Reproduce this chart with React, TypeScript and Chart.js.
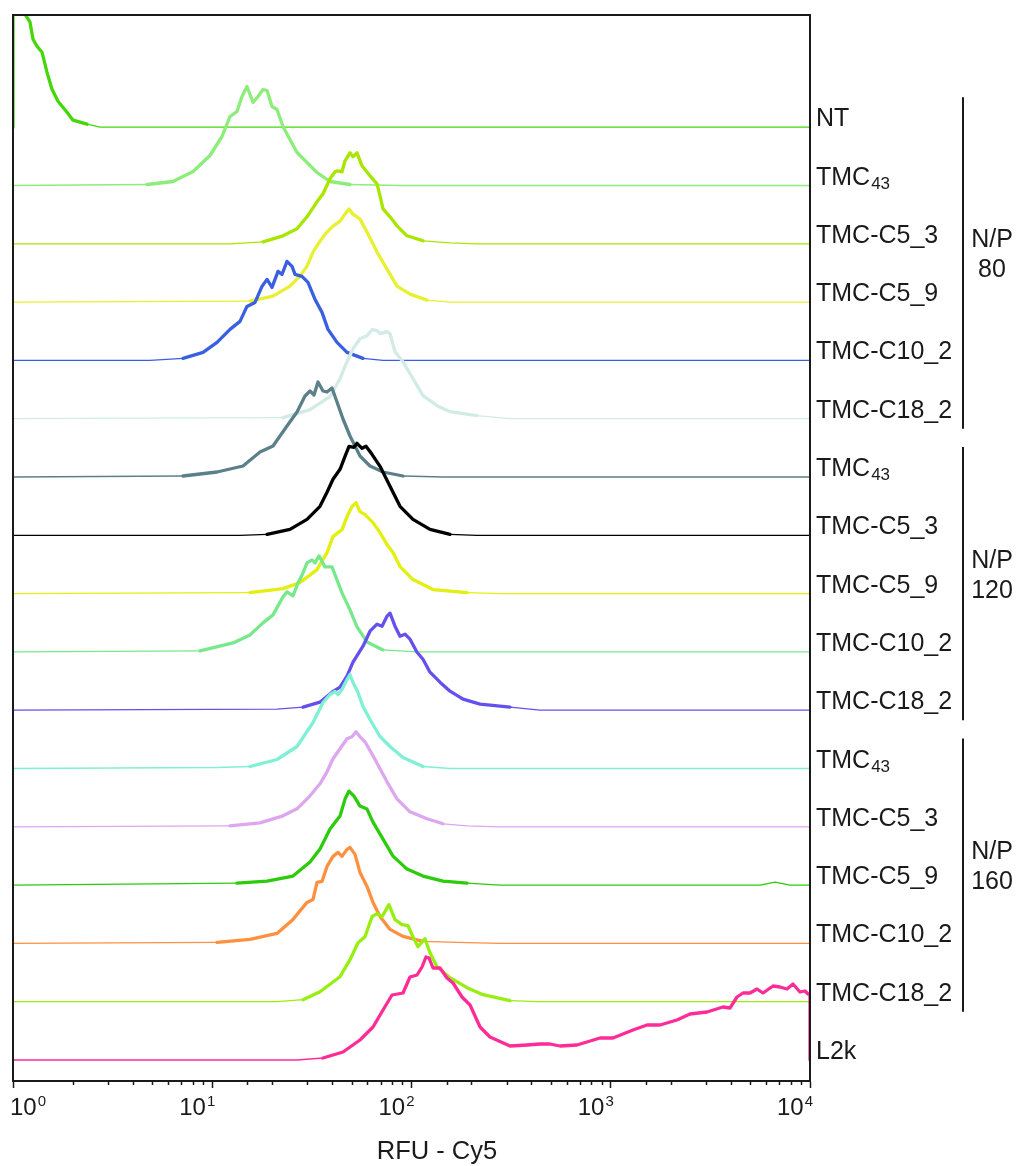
import React, { useEffect, useRef } from 'react';
import { Chart, registerables } from 'chart.js';

Chart.register(...registerables);

// ---------- data ----------
const SERIES_LABELS = ['NT', 'TMC', 'TMC-C5_3', 'TMC-C5_9', 'TMC-C10_2', 'TMC-C18_2', 'TMC', 'TMC-C5_3', 'TMC-C5_9', 'TMC-C10_2', 'TMC-C18_2', 'TMC', 'TMC-C5_3', 'TMC-C5_9', 'TMC-C10_2', 'TMC-C18_2', 'L2k'];
const SERIES_SUBSCRIPTS = ['', '43', '', '', '', '', '43', '', '', '', '', '43', '', '', '', '', ''];
const SERIES_COLORS = ['#44d80a', '#8ced7a', '#a8e600', '#e8f032', '#3a5fe0', '#d2ebe6', '#5b8089', '#000000', '#e2ef10', '#78e88c', '#6450ec', '#7ff0d4', '#dda6ee', '#2ccb0c', '#ff9040', '#99ee11', '#ff2b96'];

const NT_RFU = [1, 1, 1.149, 1.217, 1.26, 1.32, 1.398, 1.481, 1.569, 1.682, 1.866, 2.0, 2.352, 2.733, 10000];
const NT_COUNTS = [0, 140, 113, 105, 88, 81, 75, 55, 38, 26, 15, 7, 3, 0, 0];

const TMC43_80_RFU = [1, 4.70, 6.35, 8.01, 9.74, 11.19, 12.28, 13.31, 14.10, 14.94, 16.02, 16.97, 17.98, 18.83, 19.95, 21.13, 22.65, 24.56, 26.63, 29.89, 33.55, 38.99, 49.13, 87.56, 10000];
const TMC43_80_COUNTS = [0, 1, 4, 14, 30, 49, 69, 74, 89, 99, 83, 89, 96, 95, 79, 76, 59, 46, 33, 23, 13, 4, 1, 0, 0];

const C5_3_80_RFU = [1, 12.28, 17.98, 22.65, 26.63, 29.89, 33.55, 35.96, 38.99, 41.31, 42.77, 44.79, 46.38, 49.13, 50.86, 53.27, 56.44, 61.90, 67.14, 69.50, 71.95, 78.01, 84.58, 94.94, 114.2, 156.1, 213.2, 10000];
const C5_3_80_COUNTS = [0, 0, 2, 8, 15, 27, 42, 50, 65, 72, 73, 72, 83, 91, 87, 91, 78, 68, 60, 48, 35, 27, 18, 8, 3, 1, 0, 0];

const C5_9_80_RFU = [1, 15.47, 20.18, 24.56, 27.56, 29.89, 32.04, 34.74, 37.67, 40.37, 43.77, 46.38, 48.57, 50.86, 55.14, 59.80, 67.14, 75.34, 84.58, 98.29, 119.6, 156.1, 10000];
const C5_9_80_COUNTS = [0, 1, 6, 16, 26, 36, 50, 61, 70, 76, 81, 88, 93, 88, 83, 70, 50, 33, 16, 8, 2, 0, 0];

const C10_2_80_RFU = [1, 4.87, 7.13, 8.99, 10.57, 12.28, 13.78, 14.94, 16.39, 17.77, 18.83, 19.95, 21.38, 22.39, 23.72, 25.14, 26.03, 28.21, 30.24, 32.79, 35.55, 38.10, 42.28, 47.46, 57.09, 71.95, 10000];
const C10_2_80_COUNTS = [0, 0, 2, 8, 18, 31, 39, 54, 58, 74, 81, 73, 89, 86, 99, 94, 86, 84, 78, 61, 48, 31, 18, 8, 2, 0, 0];

const C18_2_80_RFU = [1, 22.65, 30.95, 38.99, 43.77, 47.46, 50.86, 55.14, 59.80, 63.36, 67.14, 69.50, 75.34, 78.01, 82.64, 90.64, 101.7, 114.2, 134.3, 156.1, 213.2, 312.1, 10000];
const C18_2_80_COUNTS = [0, 1, 9, 22, 40, 57, 70, 80, 83, 89, 88, 85, 87, 85, 67, 57, 40, 23, 13, 7, 3, 0, 0];

const TMC43_120_RFU = [1, 7.13, 10.57, 14.27, 17.36, 20.18, 23.72, 26.63, 29.21, 30.95, 32.41, 33.94, 35.96, 37.67, 39.90, 42.28, 45.31, 49.13, 55.14, 61.90, 71.95, 90.64, 143.9, 10000];
const TMC43_120_COUNTS = [0, 1, 5, 11, 25, 31, 51, 65, 81, 86, 82, 95, 86, 85, 89, 75, 58, 41, 21, 11, 5, 1, 0, 0];

const C5_3_120_RFU = [1, 13.78, 18.83, 24.56, 29.89, 34.74, 37.67, 40.37, 43.77, 46.38, 48.57, 51.45, 53.27, 56.44, 59.10, 63.36, 69.50, 78.01, 87.56, 101.7, 123.8, 156.1, 213.2, 10000];
const C5_3_120_COUNTS = [0, 0, 1, 6, 16, 29, 43, 56, 66, 79, 89, 88, 92, 87, 89, 81, 69, 49, 29, 16, 6, 1, 0, 0];

const C5_9_120_RFU = [1, 15.47, 22.65, 27.56, 33.55, 37.67, 40.37, 44.79, 47.46, 50.28, 52.66, 55.14, 58.42, 64.10, 69.50, 75.34, 80.77, 87.56, 101.7, 128.2, 189.9, 278.0, 10000];
const C5_9_120_COUNTS = [0, 1, 5, 11, 24, 41, 57, 64, 77, 87, 91, 82, 79, 71, 61, 49, 41, 27, 14, 4, 1, 0, 0];

const C10_2_120_RFU = [1, 8.68, 12.71, 15.47, 17.98, 20.18, 22.65, 23.72, 25.43, 26.94, 28.54, 29.89, 31.67, 32.79, 34.34, 36.81, 39.90, 44.79, 49.13, 53.27, 59.80, 71.95, 106.6, 10000];
const C10_2_120_COUNTS = [0, 1, 9, 17, 29, 37, 55, 60, 56, 69, 79, 89, 92, 89, 96, 85, 85, 59, 42, 25, 10, 2, 0, 0];

const C18_2_120_RFU = [1, 21.13, 28.54, 34.74, 39.90, 43.77, 47.46, 50.86, 57.09, 61.90, 67.14, 71.12, 75.34, 78.01, 82.64, 87.56, 92.77, 98.29, 106.6, 114.2, 123.8, 139.0, 156.1, 181.4, 220.8, 312.1, 441.6, 10000];
const C18_2_120_COUNTS = [0, 1, 3, 8, 18, 23, 34, 48, 64, 79, 86, 84, 94, 97, 84, 74, 76, 71, 58, 51, 38, 28, 19, 11, 6, 3, 0, 0];

const TMC43_160_RFU = [1, 10.57, 15.47, 21.13, 26.63, 32.04, 35.96, 38.99, 41.31, 42.77, 44.79, 47.46, 49.13, 50.86, 53.89, 57.09, 61.90, 69.50, 78.01, 90.64, 114.2, 156.1, 10000];
const TMC43_160_COUNTS = [0, 1, 2, 9, 22, 46, 66, 74, 77, 74, 79, 89, 94, 86, 76, 62, 49, 32, 22, 11, 2, 0, 0];

const C5_3_160_RFU = [1, 12.28, 17.36, 22.65, 26.63, 30.95, 34.74, 37.67, 40.37, 43.77, 47.46, 50.28, 52.66, 55.14, 58.42, 64.10, 69.50, 75.34, 84.58, 98.29, 119.6, 143.9, 189.9, 278.0, 10000];
const C5_3_160_COUNTS = [0, 1, 4, 11, 18, 31, 43, 55, 68, 78, 88, 90, 95, 90, 85, 71, 58, 45, 28, 15, 8, 3, 1, 0, 0];

const C5_9_160_RFU = [1, 13.31, 18.83, 25.43, 30.95, 34.74, 38.99, 43.77, 46.38, 48.57, 51.45, 55.14, 59.80, 64.10, 71.95, 80.77, 94.94, 114.2, 143.9, 189.9, 278.0, 5614, 6674, 7936, 10000];
const C5_9_160_COUNTS = [0, 2, 4, 9, 23, 36, 56, 69, 86, 94, 89, 79, 76, 63, 46, 29, 16, 9, 4, 2, 0, 0, 3, 0, 0];

const C10_2_160_RFU = [1, 10.57, 15.47, 21.13, 25.43, 29.89, 32.04, 33.55, 35.55, 37.67, 40.37, 42.77, 44.79, 47.46, 49.13, 52.05, 55.14, 59.80, 64.10, 69.50, 78.01, 90.64, 114.2, 169.2, 278.0, 10000];
const C10_2_160_COUNTS = [0, 1, 4, 10, 24, 41, 44, 61, 62, 77, 87, 91, 87, 94, 96, 89, 71, 57, 41, 27, 14, 7, 2, 1, 0, 0];

const C18_2_160_RFU = [1, 21.13, 28.54, 34.74, 43.77, 49.13, 53.89, 58.42, 63.36, 67.14, 71.12, 77.10, 82.64, 89.60, 96.03, 101.7, 107.8, 116.9, 123.8, 134.3, 156.1, 189.9, 228.5, 312.1, 426.6, 10000];
const C18_2_160_COUNTS = [0, 0, 2, 10, 25, 42, 59, 65, 85, 88, 85, 97, 82, 77, 76, 65, 55, 63, 49, 35, 24, 14, 7, 1, 0, 0];

const L2K_RFU = [1, 26.63, 35.96, 45.31, 55.14, 64.10, 71.95, 79.84, 90.64, 98.29, 106.6, 112.9, 118.2, 122.4, 128.2, 139.0, 150.7, 161.6, 179.3, 196.7, 220.8, 247.7, 312.1, 379.8, 441.6, 495.6, 556.3, 677.1, 883.1, 1026, 1293, 1520, 1767, 2150, 2499, 3042, 3659, 3967, 4301, 4609, 5000, 5420, 5808, 6522, 7070, 7665, 8215, 8907, 9438, 9772, 10000, 10000];
const L2K_COUNTS = [0, 0, 2, 8, 20, 33, 50, 65, 67, 83, 85, 93, 103, 102, 92, 92, 82, 77, 63, 55, 33, 23, 14, 15, 16, 16, 14, 15, 22, 22, 30, 35, 35, 40, 46, 48, 53, 52, 63, 67, 67, 71, 67, 74, 73, 71, 76, 68, 69, 66, 66, 0];

const SERIES_RFU = [NT_RFU, TMC43_80_RFU, C5_3_80_RFU, C5_9_80_RFU, C10_2_80_RFU, C18_2_80_RFU, TMC43_120_RFU, C5_3_120_RFU, C5_9_120_RFU, C10_2_120_RFU, C18_2_120_RFU, TMC43_160_RFU, C5_3_160_RFU, C5_9_160_RFU, C10_2_160_RFU, C18_2_160_RFU, L2K_RFU];
const SERIES_COUNTS = [NT_COUNTS, TMC43_80_COUNTS, C5_3_80_COUNTS, C5_9_80_COUNTS, C10_2_80_COUNTS, C18_2_80_COUNTS, TMC43_120_COUNTS, C5_3_120_COUNTS, C5_9_120_COUNTS, C10_2_120_COUNTS, C18_2_120_COUNTS, TMC43_160_COUNTS, C5_3_160_COUNTS, C5_9_160_COUNTS, C10_2_160_COUNTS, C18_2_160_COUNTS, L2K_COUNTS];

const GROUP_NAMES = ['N/P', 'N/P', 'N/P'];
const GROUP_VALUES = ['80', '120', '160'];
const GROUP_FIRST = [0, 6, 11];
const GROUP_LAST = [5, 10, 15];

const TICK_VALUES = [1, 10, 100, 1000, 10000];
const TICK_EXPONENTS = ['0', '1', '2', '3', '4'];
const X_TITLE = 'RFU - Cy5';

// ---------- layout constants ----------
const W = 1018;
const H = 1166;
const N = SERIES_LABELS.length;
const STEP = 58.3;
const BASE = 21;
const Y_MAX = 1066;
const FONT = "'Liberation Sans', Arial, Helvetica, sans-serif";
const offsetOf = (i: number) => BASE + (N - 1 - i) * STEP;
const isDecade = (v: number) => Math.abs(Math.log10(v) - Math.round(Math.log10(v))) < 1e-9;

const decorPlugin = {
  id: 'decor',
  afterDatasetsDraw(chart: any) {
    const { ctx, chartArea } = chart;
    const xs = chart.scales.x;
    const ys = chart.scales.y;
    ctx.save();
    // frame (left, top, right)
    ctx.strokeStyle = '#1a1a1a';
    ctx.lineWidth = 2;
    ctx.beginPath();
    ctx.moveTo(chartArea.left, chartArea.bottom);
    ctx.lineTo(chartArea.left, chartArea.top);
    ctx.lineTo(chartArea.right, chartArea.top);
    ctx.lineTo(chartArea.right, chartArea.bottom);
    ctx.stroke();

    // minor ticks
    ctx.lineWidth = 1.5;
    ctx.beginPath();
    xs.ticks.forEach((t: any) => {
      if (!isDecade(t.value)) {
        const px = Math.round(xs.getPixelForValue(t.value)) + 0.5;
        ctx.moveTo(px, chartArea.bottom);
        ctx.lineTo(px, chartArea.bottom + 4);
      }
    });
    ctx.stroke();

    // decade tick labels with superscripts
    ctx.fillStyle = '#1a1a1a';
    ctx.textBaseline = 'alphabetic';
    ctx.textAlign = 'left';
    TICK_VALUES.forEach((v, k) => {
      const px = xs.getPixelForValue(v);
      ctx.font = `24px ${FONT}`;
      const wMain = ctx.measureText('10').width;
      ctx.font = `15px ${FONT}`;
      const wSup = ctx.measureText(TICK_EXPONENTS[k]).width;
      let left = px + 3 - (wMain + wSup + 1);
      if (left < 10) left = 10;
      ctx.font = `24px ${FONT}`;
      ctx.fillText('10', left, 1115);
      ctx.font = `15px ${FONT}`;
      ctx.fillText(TICK_EXPONENTS[k], left + wMain + 1, 1106);
    });

    // axis title
    ctx.font = `25.5px ${FONT}`;
    ctx.textAlign = 'center';
    ctx.fillText(X_TITLE, 437, 1159);
    ctx.textAlign = 'left';

    // series labels
    SERIES_LABELS.forEach((lab, i) => {
      const y = ys.getPixelForValue(offsetOf(i)) - 1;
      const x = chartArea.right + 6;
      ctx.font = `25px ${FONT}`;
      ctx.fillText(lab, x, y);
      if (SERIES_SUBSCRIPTS[i]) {
        const w = ctx.measureText(lab).width;
        ctx.font = `17px ${FONT}`;
        ctx.fillText(SERIES_SUBSCRIPTS[i], x + w + 1, y + 4);
      }
    });

    // group brackets
    ctx.lineWidth = 2;
    GROUP_NAMES.forEach((name, g) => {
      const top = ys.getPixelForValue(offsetOf(GROUP_FIRST[g])) - 30;
      const bot = ys.getPixelForValue(offsetOf(GROUP_LAST[g])) + 10;
      const bx = 963;
      ctx.beginPath();
      ctx.moveTo(bx, top);
      ctx.lineTo(bx, bot);
      ctx.stroke();
      const mid = (top + bot) / 2;
      ctx.font = `25px ${FONT}`;
      ctx.textAlign = 'center';
      ctx.fillText(name, 992, mid - 16);
      ctx.fillText(GROUP_VALUES[g], 992, mid + 14);
      ctx.textAlign = 'left';
    });
    ctx.restore();
  },
};

export default function App() {
  const ref = useRef<HTMLCanvasElement | null>(null);
  useEffect(() => {
    if (!ref.current) return;
    const datasets = SERIES_RFU.map((xsArr, i) => {
      const off = offsetOf(i);
      return {
        label: SERIES_LABELS[i] + SERIES_SUBSCRIPTS[i],
        data: xsArr.map((x, k) => ({ x, y: off + SERIES_COUNTS[i][k] })),
        borderColor: SERIES_COLORS[i],
        backgroundColor: SERIES_COLORS[i],
        borderWidth: 3,
        pointRadius: 0,
        tension: 0,
        fill: false,
        borderJoinStyle: 'round' as const,
        borderCapStyle: 'round' as const,
        order: N - i,
        segment: {
          borderWidth: (c: any) => {
            const h = Math.max(c.p0.parsed.y, c.p1.parsed.y) - off;
            return h >= 4 ? 3.3 : 1.3;
          },
        },
      };
    });
    const chart = new Chart(ref.current, {
      type: 'line',
      data: { datasets },
      options: {
        animation: false,
        responsive: false,
        maintainAspectRatio: false,
        layout: { padding: { left: 13, right: W - 810, top: 15, bottom: H - 1081 - 7 } },
        plugins: { legend: { display: false }, tooltip: { enabled: false } },
        scales: {
          x: {
            type: 'logarithmic',
            min: 1,
            max: 10000,
            position: 'bottom',
            border: { display: true, color: '#1a1a1a', width: 2 },
            grid: {
              display: true,
              drawOnChartArea: false,
              drawTicks: true,
              tickLength: 7,
              tickWidth: 1.5,
              color: (c: any) => (c.tick && isDecade(c.tick.value) ? '#1a1a1a' : 'rgba(0,0,0,0)'),
            },
            ticks: { display: false, autoSkip: false },
            title: { display: false, text: X_TITLE },
            afterFit: (s: any) => {
              s.paddingLeft = 0;
              s.paddingRight = 0;
            },
          },
          y: {
            type: 'linear',
            display: false,
            min: 0,
            max: Y_MAX,
          },
        },
      },
      plugins: [decorPlugin],
    });
    return () => chart.destroy();
  }, []);
  return (
    <div style={{ position: 'absolute', left: 0, top: 0, width: W, height: H, overflow: 'hidden', background: '#fff' }}>
      <canvas ref={ref} width={W} height={H} style={{ display: 'block' }} />
    </div>
  );
}
